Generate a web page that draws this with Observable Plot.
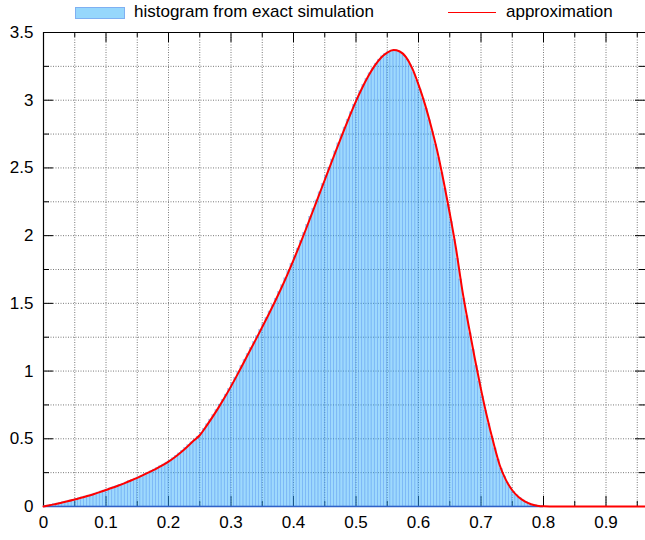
<!DOCTYPE html>
<html>
<head>
<meta charset="utf-8">
<script src="https://cdn.jsdelivr.net/npm/d3@7"></script>
<script src="https://cdn.jsdelivr.net/npm/@observablehq/plot@0.6"></script>
<style>
  body { margin: 0; background: #fff; font-family: "Liberation Sans", Arial, sans-serif; }
  #wrap { position: relative; width: 645px; height: 540px; }
  #legend { position: absolute; left: 0; top: 0; width: 645px; height: 26px; font-size: 17px; color: #000; }
  .sw { position: absolute; }
  .lt { position: absolute; top: 2px; line-height: 20px; white-space: nowrap; }
</style>
</head>
<body>
<div id="wrap">
  <div id="plot"></div>
  <div id="legend">
    <div class="sw" id="swHist" style="left:75px;top:7px;width:48px;height:10px;background:#96d7fc;border:1px solid #7fb0f2;"></div>
    <div class="lt" id="labHist" style="left:134px;"></div>
    <div class="sw" id="swLine" style="left:448px;top:11.5px;width:48px;height:0;border-top:1.5px solid red;"></div>
    <div class="lt" id="labLine" style="left:506px;"></div>
  </div>
</div>
<script>
// ---- text ----
const histLabel = "histogram from exact simulation";
const curveLabel = "approximation";

// ---- axis ticks ----
const xMajorTicks = [0, 0.1, 0.2, 0.3, 0.4, 0.5, 0.6, 0.7, 0.8, 0.9];
const xMinorTicks = [0.05, 0.15, 0.25, 0.35, 0.45, 0.55, 0.65, 0.75, 0.85, 0.95];
const yMajorTicks = [0, 0.5, 1, 1.5, 2, 2.5, 3, 3.5];
const yMinorTicks = [0.25, 0.75, 1.25, 1.75, 2.25, 2.75, 3.25];
const xGridLines = [0.05, 0.1, 0.15, 0.2, 0.25, 0.3, 0.35, 0.4, 0.45, 0.5, 0.55, 0.6, 0.65, 0.7, 0.75, 0.8, 0.85, 0.9, 0.95];
const yGridLines = [0.25, 0.5, 0.75, 1, 1.25, 1.5, 1.75, 2, 2.25, 2.5, 2.75, 3, 3.25];
const xDomain = [0, 0.9632];
const yDomain = [0, 3.5];

// ---- histogram (bin width 0.005, starting at 0) ----
const binWidth = 0.005;
const histValues = [
  0.003, 0.007, 0.011, 0.017, 0.021, 0.027, 0.032, 0.037, 0.043, 0.049,
  0.055, 0.061, 0.067, 0.074, 0.080, 0.088, 0.095, 0.103, 0.111, 0.118,
  0.126, 0.134, 0.142, 0.151, 0.159, 0.168, 0.177, 0.187, 0.196, 0.206,
  0.216, 0.227, 0.238, 0.249, 0.260, 0.272, 0.284, 0.297, 0.310, 0.324,
  0.339, 0.356, 0.373, 0.392, 0.411, 0.432, 0.453, 0.474, 0.495, 0.515,
  0.542, 0.574, 0.607, 0.641, 0.676, 0.712, 0.752, 0.787, 0.826, 0.867,
  0.908, 0.951, 0.994, 1.038, 1.082, 1.126, 1.170, 1.214, 1.258, 1.303,
  1.348, 1.393, 1.440, 1.487, 1.534, 1.584, 1.634, 1.685, 1.738, 1.792,
  1.847, 1.904, 1.961, 2.020, 2.079, 2.139, 2.199, 2.260, 2.320, 2.381,
  2.441, 2.502, 2.562, 2.622, 2.682, 2.741, 2.798, 2.856, 2.911, 2.966,
  3.018, 3.067, 3.114, 3.158, 3.199, 3.236, 3.270, 3.299, 3.324, 3.343,
  3.357, 3.366, 3.369, 3.363, 3.352, 3.330, 3.300, 3.258, 3.205, 3.145,
  3.080, 3.010, 2.935, 2.852, 2.764, 2.672, 2.572, 2.462, 2.345, 2.225,
  2.100, 1.970, 1.829, 1.676, 1.535, 1.405, 1.279, 1.156, 1.037, 0.922,
  0.812, 0.707, 0.609, 0.516, 0.429, 0.346, 0.278, 0.222, 0.176, 0.139,
  0.108, 0.083, 0.062, 0.045, 0.032, 0.022, 0.014, 0.009, 0.005, 0.002
];

// ---- approximation curve ----
const curveX = [
  0.00, 0.01, 0.02, 0.03, 0.04, 0.05, 0.06, 0.07, 0.08, 0.09,
  0.10, 0.11, 0.12, 0.13, 0.14, 0.15, 0.16, 0.17, 0.18, 0.19,
  0.20, 0.21, 0.22, 0.23, 0.24, 0.25, 0.26, 0.27, 0.28, 0.29,
  0.30, 0.31, 0.32, 0.33, 0.34, 0.35, 0.36, 0.37, 0.38, 0.39,
  0.40, 0.41, 0.42, 0.43, 0.44, 0.45, 0.46, 0.47, 0.48, 0.49,
  0.50, 0.51, 0.52, 0.53, 0.54, 0.55, 0.56, 0.57, 0.58, 0.59,
  0.60, 0.61, 0.62, 0.63, 0.64, 0.65, 0.66, 0.67, 0.68, 0.69,
  0.70, 0.71, 0.72, 0.73, 0.74, 0.75, 0.76, 0.77, 0.78, 0.79,
  0.80, 0.81, 0.97
];
const curveY = [
  0, 0.009, 0.019, 0.029, 0.040, 0.052, 0.064, 0.077, 0.091, 0.106,
  0.122, 0.138, 0.155, 0.173, 0.192, 0.212, 0.233, 0.255, 0.278, 0.303,
  0.331, 0.364, 0.401, 0.442, 0.485, 0.526, 0.590, 0.658, 0.730, 0.806,
  0.887, 0.972, 1.060, 1.148, 1.236, 1.325, 1.416, 1.510, 1.608, 1.711,
  1.819, 1.932, 2.049, 2.169, 2.290, 2.411, 2.532, 2.652, 2.770, 2.884,
  2.993, 3.092, 3.180, 3.255, 3.314, 3.352, 3.370, 3.360, 3.318, 3.235,
  3.115, 2.975, 2.810, 2.625, 2.405, 2.165, 1.905, 1.600, 1.340, 1.095,
  0.865, 0.655, 0.470, 0.305, 0.195, 0.120, 0.070, 0.038, 0.017, 0.006,
  0.001, 0, 0
];

document.getElementById("labHist").textContent = histLabel;
document.getElementById("labLine").textContent = curveLabel;

const hist = histValues.map((v, i) => ({x1: i * binWidth, x2: (i + 1) * binWidth, y: v}));
const curve = curveX.map((x, i) => ({x, y: curveY[i]}));

const W = 645, H = 540, mL = 43, mR = 0, mT = 32, mB = 34;
const fw = W - mL - mR, fh = H - mT - mB;
const fmt = d3.format("~g");

const chart = Plot.plot({
  width: W, height: H,
  marginLeft: mL, marginRight: mR, marginTop: mT, marginBottom: mB,
  style: {fontFamily: '"Liberation Sans", Arial, sans-serif', fontSize: "17px", color: "#000", background: "#fff", overflow: "visible"},
  x: {domain: xDomain, ticks: xMajorTicks, tickSize: 0, tickPadding: 9, tickFormat: fmt, label: null},
  y: {domain: yDomain, ticks: yMajorTicks, tickSize: 0, tickPadding: 10, tickFormat: fmt, label: null},
  marks: [
    // grid
    Plot.ruleX(xGridLines, {x: d => d, stroke: "#7a7a7a", strokeDasharray: "1,1.5", strokeWidth: 1}),
    Plot.ruleY(yGridLines, {y: d => d, stroke: "#7a7a7a", strokeDasharray: "1,1.5", strokeWidth: 1}),
    // inward ticks (bottom / top)
    Plot.tickX(xMajorTicks, {x: d => d, insetTop: fh - 10, stroke: "#000"}),
    Plot.tickX(xMajorTicks, {x: d => d, insetBottom: fh - 10, stroke: "#000"}),
    Plot.tickX(xMinorTicks, {x: d => d, insetTop: fh - 5, stroke: "#000"}),
    Plot.tickX(xMinorTicks, {x: d => d, insetBottom: fh - 5, stroke: "#000"}),
    // inward ticks (left / right)
    Plot.tickY(yMajorTicks, {y: d => d, insetRight: fw - 10, stroke: "#000"}),
    Plot.tickY(yMajorTicks, {y: d => d, insetLeft: fw - 10, stroke: "#000"}),
    Plot.tickY(yMinorTicks, {y: d => d, insetRight: fw - 6, stroke: "#000"}),
    Plot.tickY(yMinorTicks, {y: d => d, insetLeft: fw - 6, stroke: "#000"}),
    // border
    Plot.ruleY([yDomain[0]], {stroke: "#000", strokeWidth: 1.2}),
    Plot.ruleY([yDomain[1]], {stroke: "#000", strokeWidth: 1.2}),
    Plot.ruleX([xDomain[0]], {stroke: "#000", strokeWidth: 1.2}),
    // histogram
    Plot.rectY(hist, {x1: "x1", x2: "x2", y: "y", fill: "rgb(40,170,250)", fillOpacity: 0.45,
      stroke: "rgb(60,120,235)", strokeOpacity: 0.35, strokeWidth: 0.6}),
    // baseline of the histogram
    Plot.ruleY([0], {x1: 0, x2: histValues.length * binWidth, stroke: "#2f62c8", strokeWidth: 1.5}),
    // approximation
    Plot.line(curve, {x: "x", y: "y", stroke: "#ff0000", strokeWidth: 2, curve: "monotone-x"})
  ]
});
document.getElementById("plot").appendChild(chart);
</script>
</body>
</html>
